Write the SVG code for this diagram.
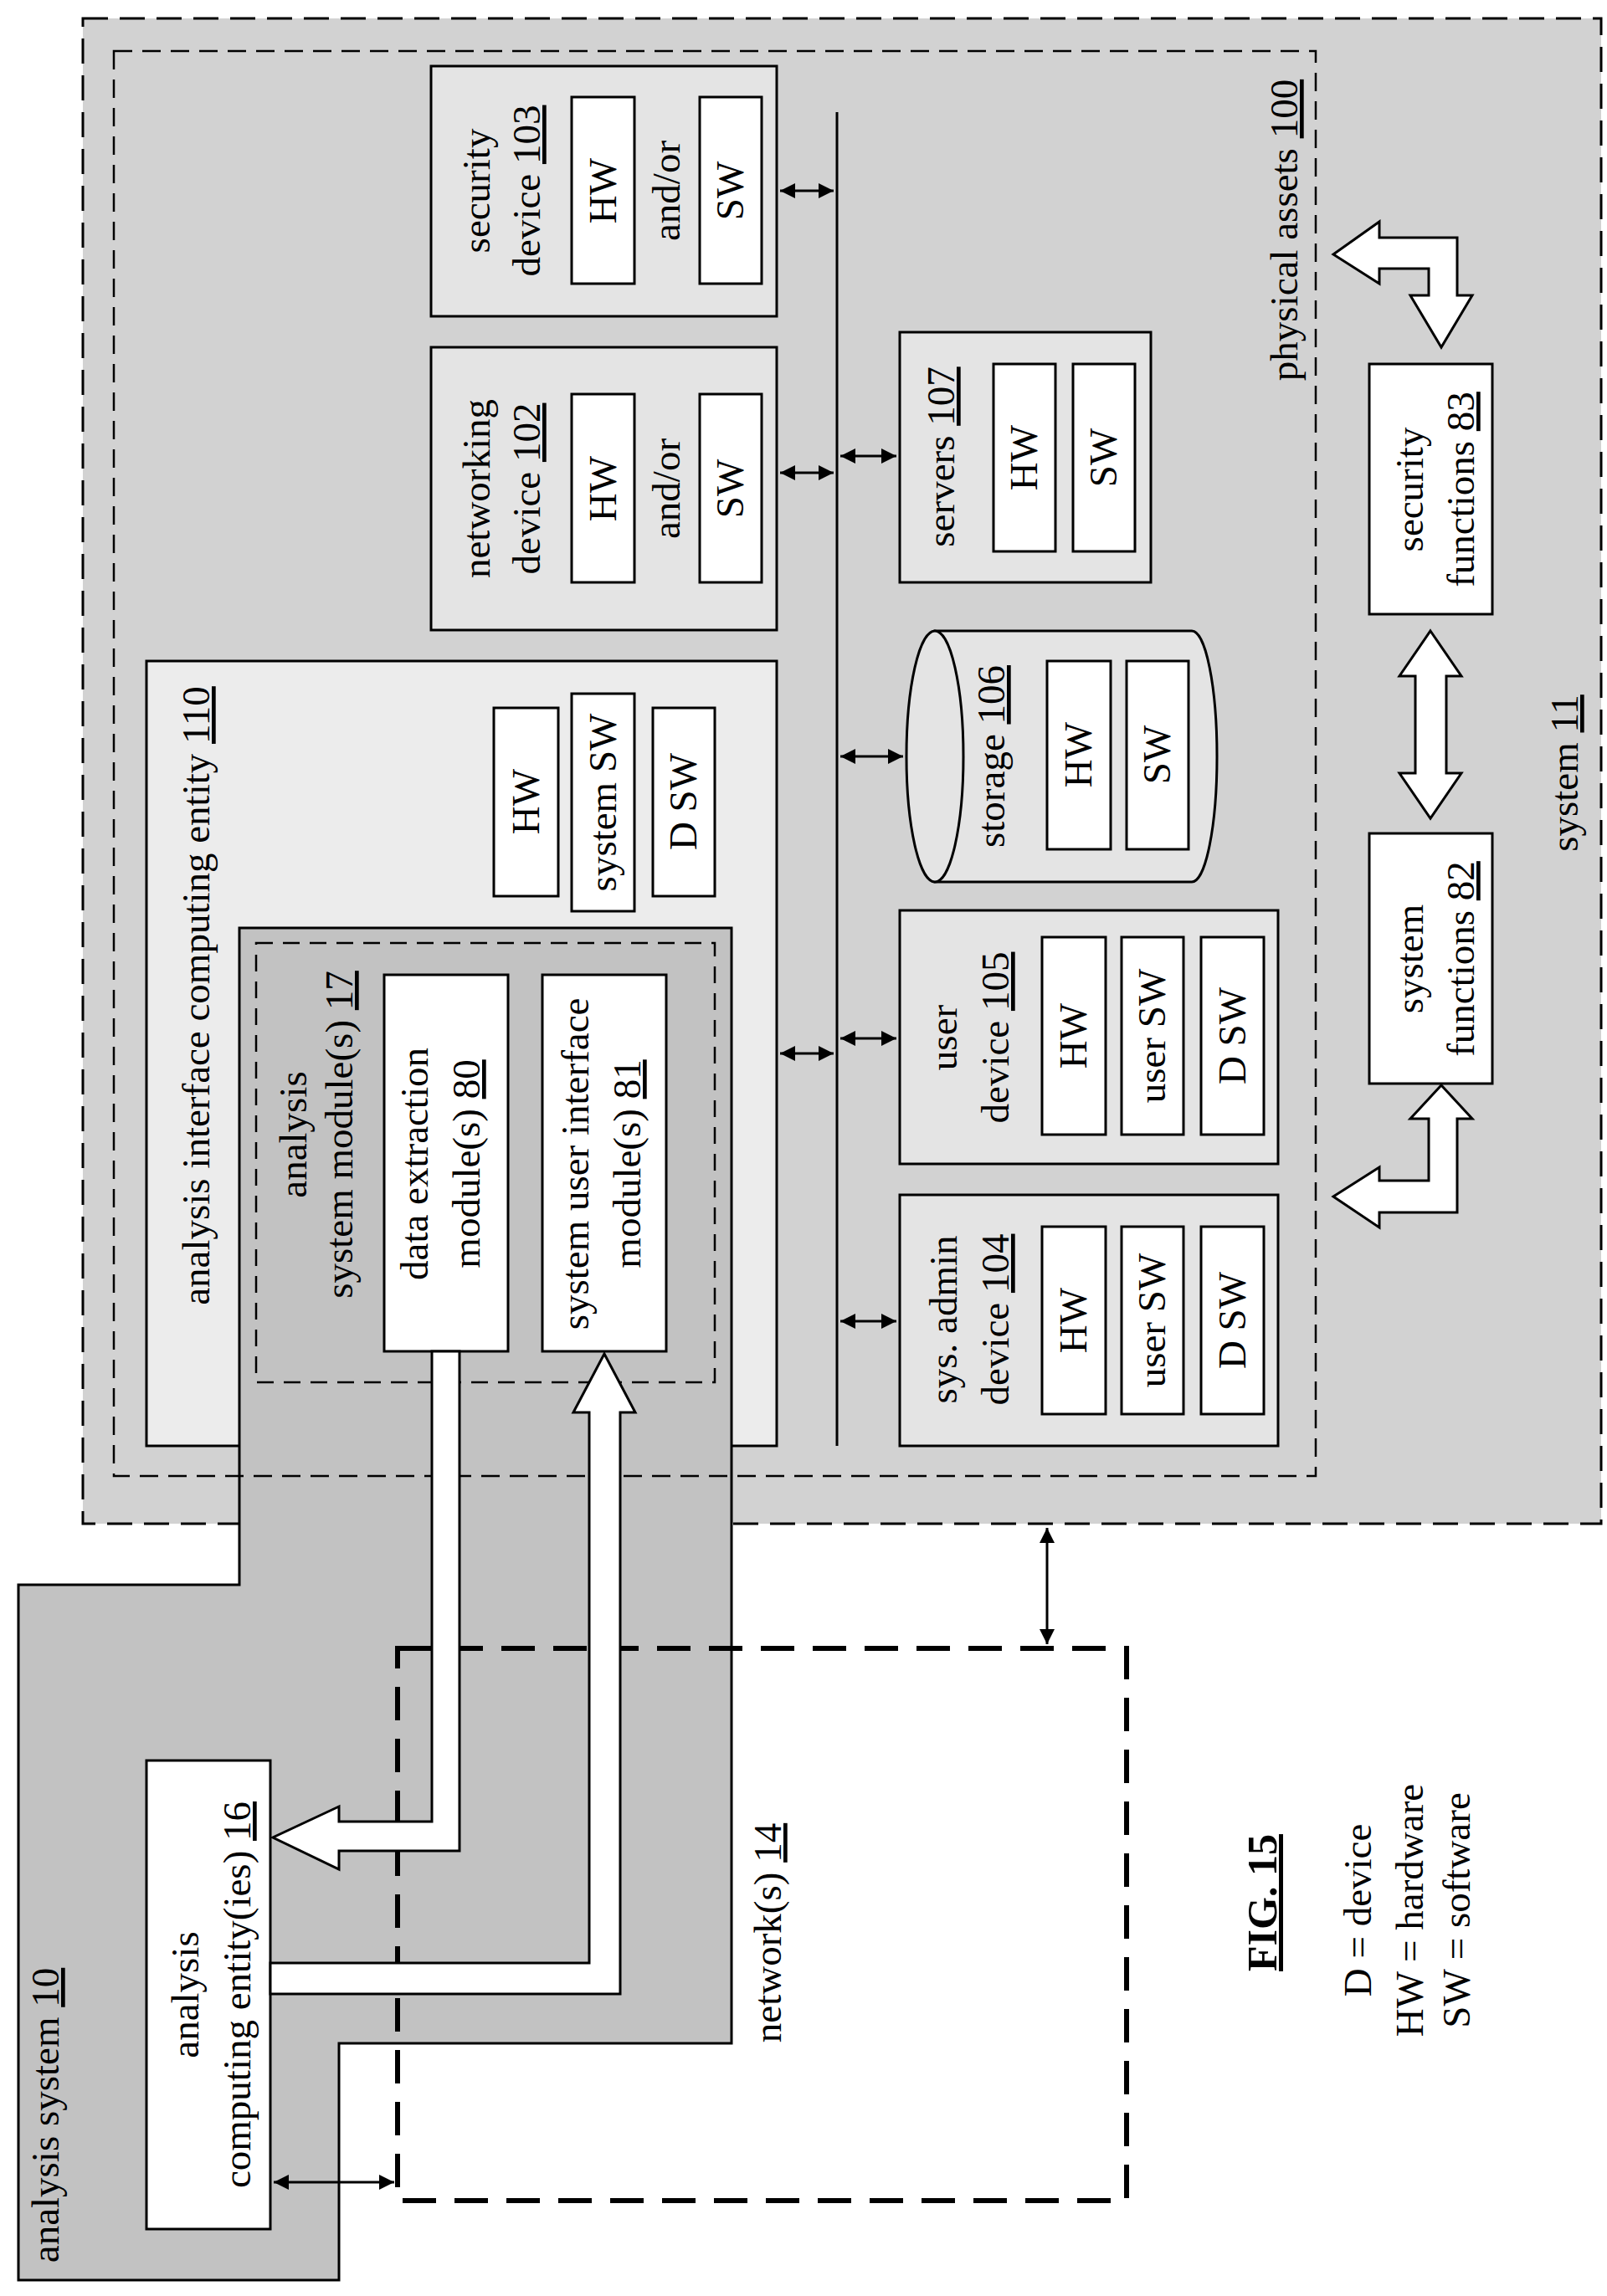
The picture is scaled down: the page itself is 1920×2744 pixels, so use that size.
<svg xmlns="http://www.w3.org/2000/svg" width="1920" height="2744" viewBox="0 0 1920 2744">
<style>
text{font-family:"Liberation Serif","Times New Roman",serif;font-size:47px;fill:#000}
.b{stroke:#000;stroke-width:3}
.w{fill:#fff}
.g{fill:#e4e4e4}
.c{stroke:#000;stroke-width:3;fill:none}
.u{text-decoration:underline}
</style>
<defs>
<marker id="ah" viewBox="0 0 10 10" refX="10" refY="5" markerWidth="6" markerHeight="6" orient="auto-start-reverse"><path d="M0,0 L10,5 L0,10 z" fill="#000"/></marker>
</defs>
<rect width="1920" height="2744" fill="#fff"/>
<g id="system11">
<rect x="99" y="22" width="1814" height="1799" fill="#d2d2d2" stroke="#000" stroke-width="3" stroke-dasharray="30 14"/>
<text transform="translate(1885,924) rotate(-90)" text-anchor="middle">system <tspan class="u">11</tspan></text>
</g>
<g id="entity110">
<rect x="175" y="790" width="753" height="938" class="b" fill="#ececec"/>
<text transform="translate(250,1190) rotate(-90)" text-anchor="middle">analysis interface computing entity <tspan class="u">110</tspan></text>
<rect x="590" y="846" width="77" height="225" class="b w"/>
<text transform="translate(644,958) rotate(-90)" text-anchor="middle">HW</text>
<rect x="683" y="829" width="75" height="260" class="b w"/>
<text transform="translate(736,959) rotate(-90)" text-anchor="middle">system SW</text>
<rect x="780" y="846" width="74" height="225" class="b w"/>
<text transform="translate(832,958) rotate(-90)" text-anchor="middle">D SW</text>
</g>
<g id="analysis10">
<polygon points="22,1894 286,1894 286,1109 874,1109 874,2442 405,2442 405,2725 22,2725" fill="#c2c2c2" stroke="#000" stroke-width="3"/>
<text transform="translate(70,2528) rotate(-90)" text-anchor="middle">analysis system <tspan class="u">10</tspan></text>
</g>
<g id="module17">
<rect x="306" y="1127" width="548" height="525" fill="none" stroke="#000" stroke-width="2.5" stroke-dasharray="20 12"/>
<text transform="translate(366,1356) rotate(-90)" text-anchor="middle">analysis</text>
<text transform="translate(421,1356) rotate(-90)" text-anchor="middle">system module(s) <tspan class="u">17</tspan></text>
</g>
<g id="module80">
<rect x="459" y="1165" width="148" height="450" class="b w"/>
<text transform="translate(511,1391) rotate(-90)" text-anchor="middle">data extraction</text>
<text transform="translate(573,1391) rotate(-90)" text-anchor="middle">module(s) <tspan class="u">80</tspan></text>
</g>
<g id="module81">
<rect x="648" y="1165" width="148" height="450" class="b w"/>
<text transform="translate(703,1391) rotate(-90)" text-anchor="middle">system user interface</text>
<text transform="translate(765,1391) rotate(-90)" text-anchor="middle">module(s) <tspan class="u">81</tspan></text>
</g>
<g id="assets100">
<rect x="136" y="61" width="1436" height="1703" fill="none" stroke="#000" stroke-width="2.5" stroke-dasharray="22 12"/>
<text transform="translate(1550,275) rotate(-90)" text-anchor="middle">physical assets <tspan class="u">100</tspan></text>
</g>
<g id="security103">
<rect x="515" y="79" width="413" height="299" class="b g"/>
<text transform="translate(585,228) rotate(-90)" text-anchor="middle">security</text>
<text transform="translate(645,228) rotate(-90)" text-anchor="middle">device <tspan class="u">103</tspan></text>
<rect x="683" y="116" width="75" height="223" class="b w"/>
<text transform="translate(736,228) rotate(-90)" text-anchor="middle">HW</text>
<text transform="translate(812,228) rotate(-90)" text-anchor="middle">and/or</text>
<rect x="836" y="116" width="74" height="223" class="b w"/>
<text transform="translate(888,228) rotate(-90)" text-anchor="middle">SW</text>
</g>
<g id="networking102">
<rect x="515" y="415" width="413" height="338" class="b g"/>
<text transform="translate(585,584) rotate(-90)" text-anchor="middle">networking</text>
<text transform="translate(645,584) rotate(-90)" text-anchor="middle">device <tspan class="u">102</tspan></text>
<rect x="683" y="471" width="75" height="225" class="b w"/>
<text transform="translate(736,584) rotate(-90)" text-anchor="middle">HW</text>
<text transform="translate(812,584) rotate(-90)" text-anchor="middle">and/or</text>
<rect x="836" y="471" width="74" height="225" class="b w"/>
<text transform="translate(888,584) rotate(-90)" text-anchor="middle">SW</text>
</g>
<g id="servers107">
<rect x="1075" y="397" width="300" height="299" class="b g"/>
<text transform="translate(1140,546) rotate(-90)" text-anchor="middle">servers <tspan class="u">107</tspan></text>
<rect x="1187" y="435" width="74" height="224" class="b w"/>
<text transform="translate(1239,547) rotate(-90)" text-anchor="middle">HW</text>
<rect x="1282" y="435" width="74" height="224" class="b w"/>
<text transform="translate(1334,547) rotate(-90)" text-anchor="middle">SW</text>
</g>
<g id="storage106">
<path d="M1117,754 L1424,754 A30,150 0 0 1 1424,1054 L1117,1054 Z" class="b g"/>
<ellipse cx="1117" cy="904" rx="34" ry="150" class="b g"/>
<text transform="translate(1200,904) rotate(-90)" text-anchor="middle">storage <tspan class="u">106</tspan></text>
<rect x="1251" y="790" width="76" height="225" class="b w"/>
<text transform="translate(1304,902) rotate(-90)" text-anchor="middle">HW</text>
<rect x="1346" y="790" width="74" height="225" class="b w"/>
<text transform="translate(1398,902) rotate(-90)" text-anchor="middle">SW</text>
</g>
<g id="user105">
<rect x="1075" y="1088" width="452" height="303" class="b g"/>
<text transform="translate(1143,1240) rotate(-90)" text-anchor="middle">user</text>
<text transform="translate(1205,1240) rotate(-90)" text-anchor="middle">device <tspan class="u">105</tspan></text>
<rect x="1245" y="1120" width="76" height="236" class="b w"/>
<text transform="translate(1298,1238) rotate(-90)" text-anchor="middle">HW</text>
<rect x="1340" y="1120" width="74" height="236" class="b w"/>
<text transform="translate(1392,1238) rotate(-90)" text-anchor="middle">user SW</text>
<rect x="1435" y="1120" width="75" height="236" class="b w"/>
<text transform="translate(1488,1238) rotate(-90)" text-anchor="middle">D SW</text>
</g>
<g id="admin104">
<rect x="1075" y="1428" width="452" height="300" class="b g"/>
<text transform="translate(1143,1577) rotate(-90)" text-anchor="middle">sys. admin</text>
<text transform="translate(1205,1577) rotate(-90)" text-anchor="middle">device <tspan class="u">104</tspan></text>
<rect x="1245" y="1466" width="76" height="224" class="b w"/>
<text transform="translate(1298,1578) rotate(-90)" text-anchor="middle">HW</text>
<rect x="1340" y="1466" width="74" height="224" class="b w"/>
<text transform="translate(1392,1578) rotate(-90)" text-anchor="middle">user SW</text>
<rect x="1435" y="1466" width="75" height="224" class="b w"/>
<text transform="translate(1488,1578) rotate(-90)" text-anchor="middle">D SW</text>
</g>
<g id="functions83">
<rect x="1636" y="435" width="147" height="299" class="b w"/>
<text transform="translate(1700,585) rotate(-90)" text-anchor="middle">security</text>
<text transform="translate(1761,585) rotate(-90)" text-anchor="middle">functions <tspan class="u">83</tspan></text>
</g>
<g id="functions82">
<rect x="1636" y="996" width="147" height="299" class="b w"/>
<text transform="translate(1700,1146) rotate(-90)" text-anchor="middle">system</text>
<text transform="translate(1761,1146) rotate(-90)" text-anchor="middle">functions <tspan class="u">82</tspan></text>
</g>
<g id="network14">
<rect x="475" y="1970" width="871" height="660" fill="none" stroke="#000" stroke-width="6" stroke-dasharray="40 22"/>
<text transform="translate(933,2310) rotate(-90)" text-anchor="middle">network(s) <tspan class="u">14</tspan></text>
</g>
<g id="entity16">
<rect x="175" y="2104" width="148" height="560" class="b w"/>
<text transform="translate(237,2384) rotate(-90)" text-anchor="middle">analysis</text>
<text transform="translate(299,2384) rotate(-90)" text-anchor="middle">computing entity(ies) <tspan class="u">16</tspan></text>
</g>
<g id="connectors">
<line x1="1000" y1="134" x2="1000" y2="1728" class="c"/>
<g class="c" marker-start="url(#ah)" marker-end="url(#ah)">
<line x1="932" y1="228" x2="996" y2="228"/>
<line x1="932" y1="565" x2="996" y2="565"/>
<line x1="932" y1="1259" x2="996" y2="1259"/>
<line x1="1004" y1="545" x2="1071" y2="545"/>
<line x1="1004" y1="904" x2="1079" y2="904"/>
<line x1="1004" y1="1241" x2="1071" y2="1241"/>
<line x1="1004" y1="1579" x2="1071" y2="1579"/>
<line x1="1251" y1="1826" x2="1251" y2="1965"/>
<line x1="327" y1="2608" x2="471" y2="2608"/>
</g>
<polygon points="516,1615 549,1615 549,2212 405,2212 405,2234 326,2196 405,2159 405,2177 516,2177" class="b w"/>
<polygon points="323,2346 704,2346 704,1688 685,1688 722,1618 759,1688 741,1688 741,2383 323,2383" class="b w"/>
<polygon points="1709,754 1746,808 1728,808 1728,924 1746,924 1709,978 1672,924 1691,924 1691,808 1672,808" class="b w"/>
<polygon points="1593,304 1648,265 1648,284 1741,284 1741,353 1759,353 1722,415 1685,353 1707,353 1707,321 1648,321 1648,339" class="b w"/>
<polygon points="1593,1430 1648,1395 1648,1411 1707,1411 1707,1337 1685,1337 1722,1297 1759,1337 1741,1337 1741,1449 1648,1449 1648,1467" class="b w"/>
</g>
<g id="legend">
<text transform="translate(1525,2274) rotate(-90)" text-anchor="middle" font-weight="bold" class="u" style="font-size:50px">FIG. 15</text>
<text transform="translate(1638,2283) rotate(-90)" text-anchor="middle">D = device</text>
<text transform="translate(1700,2283) rotate(-90)" text-anchor="middle">HW = hardware</text>
<text transform="translate(1756,2283) rotate(-90)" text-anchor="middle">SW = software</text>
</g>
</svg>
